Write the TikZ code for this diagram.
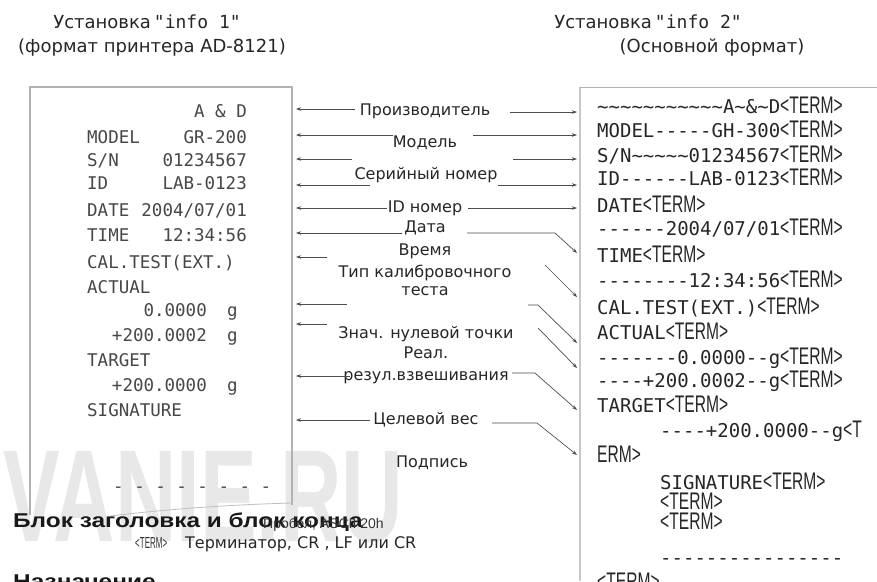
\documentclass[tikz,border=0pt]{standalone}
\usepackage{fontspec}
\usepackage{graphicx}
\usetikzlibrary{arrows.meta}
\setmainfont{DejaVu Sans}
\newfontfamily\monof{DejaVu Sans Mono}
\newfontfamily\termf[FakeStretch=0.65]{Liberation Sans}
\newfontfamily\arialf{Liberation Sans}
\newcommand\Tm{{\termf\fontsize{24}{24}\selectfont<TERM>}}
\newcommand\Tl{\textasciitilde}
\tikzset{
  lbl/.style={font=\fontsize{16}{16}\selectfont, text=black!85, inner sep=0, anchor=base},
  ttl/.style={font=\fontsize{18}{18}\selectfont, text=black!85, inner sep=0, anchor=base},
  lm/.style={font=\monof\fontsize{17.5}{17.5}\selectfont, text=black!72, inner sep=0},
  lmw/.style={lm, anchor=base west},
  lme/.style={lm, anchor=base east},
  rmono/.style={font=\monof\fontsize{19}{19}\selectfont, text=black!85, inner sep=0, anchor=base west},
  conn/.style={draw=black!70, line width=0.7pt, -{Stealth[length=5pt,width=3.5pt]}},
  boxline/.style={draw=black!30, line width=1.2pt},
}
\begin{document}
\begin{tikzpicture}[x=1pt,y=-1pt]
\useasboundingbox (0,0) rectangle (877,581);
\clip (0,0) rectangle (877,581);
\fill[white] (0,0) rectangle (877,581);
% watermark
\node[anchor=south west, inner sep=0, text=black!9] (wm) at (3,543) {\resizebox{400pt}{90pt}{\arialf\bfseries VANIE.RU}};
% titles
\node[ttl] (t1) at (147,28) {Установка\,{\monof"info 1"}};
\node[ttl] (t1b) at (152,52) {(формат принтера AD-8121)};
\node[ttl] (t2) at (648,28) {Установка\,{\monof"info 2"}};
\node[ttl] (t2b) at (712,52) {(Основной формат)};
% left box
\draw[boxline] (292,505) -- (292,87) -- (30,87) -- (30,515);
\draw[draw=black!25, line width=0.8pt] (292,503) .. controls (220,505) and (160,510) .. (110,516);
% left box text
\node[lme] (Va) at (247,117) {A \& D};
\node[lmw] (Lb) at (87,143) {MODEL};
\node[lme] (Vb) at (247,143) {GR-200};
\node[lmw] (Lc) at (87,166) {S/N};
\node[lme] (Vc) at (247,166) {01234567};
\node[lmw] (Ld) at (87,189) {ID};
\node[lme] (Vd) at (247,189) {LAB-0123};
\node[lmw] (Le) at (87,216) {DATE};
\node[lme] (Ve) at (247,216) {2004/07/01};
\node[lmw] (Lf) at (87,241) {TIME};
\node[lme] (Vf) at (247,241) {12:34:56};
\node[lmw] (Lg) at (87,268) {CAL.TEST(EXT.)};
\node[lmw] (Lh) at (87,293) {ACTUAL};
\node[lme] (Vh) at (207,316) {0.0000};
\node[lmw] (Gh) at (227,316) {g};
\node[lme] (Vi) at (207,341) {+200.0002};
\node[lmw] (Gi) at (227,341) {g};
\node[lmw] (Lj) at (87,366) {TARGET};
\node[lme] (Vk) at (207,391) {+200.0000};
\node[lmw] (Gk) at (227,391) {g};
\node[lmw] (Ll) at (87,416) {SIGNATURE};
\node[lmw] (Ldash) at (113,492) {- - - - - - - -};
% right box
\draw[draw=black!22, line width=2.5pt] (580,87) -- (580,581);
\draw[draw=black!30, line width=1pt] (580,87) -- (877,87);
% right box text
\node[rmono] (R1) at (597,113) {\Tl\Tl\Tl\Tl\Tl\Tl\Tl\Tl\Tl\Tl\Tl A\Tl\&\Tl D\Tm};
\node[rmono] (R2) at (597,137) {MODEL{-}{-}{-}{-}{-}GH-300\Tm};
\node[rmono] (R3) at (597,162) {S/N\Tl\Tl\Tl\Tl\Tl 01234567\Tm};
\node[rmono] (R4) at (597,185) {ID{-}{-}{-}{-}{-}{-}LAB-0123\Tm};
\node[rmono] (R5) at (597,212) {DATE\Tm};
\node[rmono] (R6) at (597,235) {{-}{-}{-}{-}{-}{-}2004/07/01\Tm};
\node[rmono] (R7) at (597,262) {TIME\Tm};
\node[rmono] (R8) at (597,287) {{-}{-}{-}{-}{-}{-}{-}{-}12:34:56\Tm};
\node[rmono] (R9) at (597,314) {CAL.TEST(EXT.)\Tm};
\node[rmono] (R10) at (597,339) {ACTUAL\Tm};
\node[rmono] (R11) at (597,364) {{-}{-}{-}{-}{-}{-}{-}0.0000{-}{-}g\Tm};
\node[rmono] (R12) at (597,387) {{-}{-}{-}{-}+200.0002{-}{-}g\Tm};
\node[rmono] (R13) at (597,412) {TARGET\Tm};
\node[rmono] (R14) at (660,437) {{-}{-}{-}{-}+200.0000{-}{-}g{\termf\fontsize{24}{24}\selectfont<T}};
\node[rmono] (R15) at (597,462) {{\termf\fontsize{24}{24}\selectfont ERM>}};
\node[rmono] (R16) at (660,489) {SIGNATURE\Tm};
\node[rmono] (R17) at (660,509) {\Tm};
\node[rmono] (R18) at (660,529) {\Tm};
\node[rmono] (R19) at (660,564) {{-}{-}{-}{-}{-}{-}{-}{-}{-}{-}{-}{-}{-}{-}{-}{-}};
\node[rmono] (R20) at (597,589) {\Tm};
% labels
\node[lbl] (m1) at (425,115) {Производитель};
\node[lbl] (m2) at (425,147) {Модель};
\node[lbl] (m3) at (426,179) {Серийный номер};
\node[lbl] (m4) at (425,212) {ID номер};
\node[lbl] (m5) at (425,232) {Дата};
\node[lbl] (m6) at (425,255) {Время};
\node[lbl] (m7) at (425,277) {Тип калибровочного};
\node[lbl] (m8) at (425,295) {теста};
\node[lbl] (m9) at (426,338) {Знач. нулевой точки};
\node[lbl] (m10) at (426,358) {Реал.};
\node[lbl] (m11) at (426,380) {резул.взвешивания};
\node[lbl] (m12) at (426,424) {Целевой вес};
\node[lbl] (m13) at (432,467) {Подпись};
% left arrows
\foreach \i/\xs/\y in {1/355/109, 2/393/135, 3/352/159, 4/370/185, 5/387/208, 6/402/233, 7/327/257, 8/347/304, 9/327/324, 10/350/376, 11/370/420}{
  \coordinate (ls\i) at (\xs,\y);
  \coordinate (le\i) at (296,\y);
  \draw[conn] (ls\i) -- (le\i);
}
% right horizontal arrows
\foreach \i/\xs/\y in {1/510/112, 2/473/135, 3/513/159, 4/498/185, 5/468/208}{
  \coordinate (rs\i) at (\xs,\y);
  \coordinate (re\i) at (577,\y);
  \draw[conn] (rs\i) -- (re\i);
}
% right bent arrows
\foreach \i/\xs/\xb/\y/\ye in {6/467/555/233/253, 8/528/538/305/343, 10/512/535/373/410, 11/492/537/423/455}{
  \coordinate (rs\i) at (\xs,\y);
  \coordinate (rb\i) at (\xb,\y);
  \coordinate (re\i) at (577,\ye);
  \draw[conn] (rs\i) -- (rb\i) -- (re\i);
}
\foreach \i/\xs/\y/\ye in {7/545/265/297, 9/538/328/368}{
  \coordinate (rs\i) at (\xs,\y);
  \coordinate (re\i) at (577,\ye);
  \draw[conn] (rs\i) -- (re\i);
}
% bottom legend
\node[inner sep=0, anchor=base west, text=black!90] (hb) at (13,527) {\scalebox{1.22}[1]{\arialf\bfseries\fontsize{20}{20}\selectfont Блок заголовка и блок конца}};
\node[inner sep=0, anchor=base west, font=\arialf\fontsize{14}{14}\selectfont, text=black!80] (sp) at (263,528) {Пробел, ASCII 20h};
\node[inner sep=0, anchor=base west, text=black!80] (tt) at (135,548) {\scalebox{0.5}[1]{\arialf\fontsize{16}{16}\selectfont<TERM>}};
\node[inner sep=0, anchor=base west, font=\fontsize{16}{16}\selectfont, text=black!85] (td) at (185,548) {Терминатор, CR , LF или CR};
\node[inner sep=0, anchor=base west, text=black!90] (nz) at (13,588) {\scalebox{1.22}[1]{\arialf\bfseries\fontsize{20}{20}\selectfont Назначение}};
\end{tikzpicture}
\end{document}
